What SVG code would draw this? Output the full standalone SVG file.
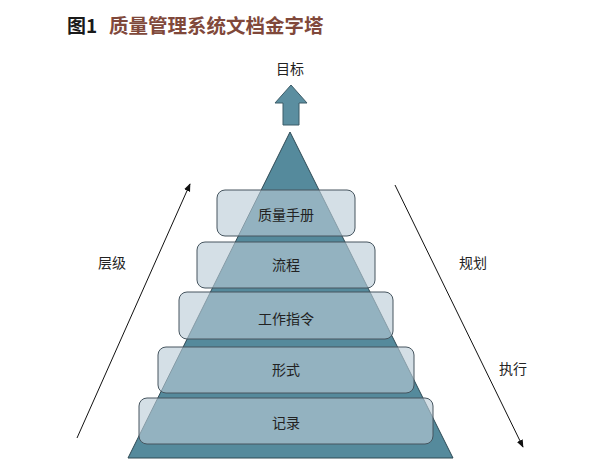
<svg xmlns="http://www.w3.org/2000/svg" width="616" height="465" viewBox="0 0 616 465">
<defs>
<style>
.t{font-family:"Noto Sans CJK SC","Noto Sans",sans-serif;font-size:14px;fill:#222;text-anchor:middle;dominant-baseline:central}
.box{fill:#b9ccd7;fill-opacity:0.62;stroke:#46555f;stroke-width:1}
.ln{stroke:#111;stroke-width:1;fill:none}
</style>
<marker id="ah" viewBox="0 0 10 10" refX="9" refY="5" markerWidth="8" markerHeight="8" orient="auto" markerUnits="userSpaceOnUse"><path d="M0,1 L10,5 L0,9 z" fill="#111"/></marker>
</defs>
<rect width="616" height="465" fill="#fff"/>
<g id="title">
<text x="67" y="33" style="font-family:'Noto Sans CJK SC',sans-serif;font-size:19px;font-weight:bold;fill:#1a1a1a">图1</text>
<text x="109" y="33" style="font-family:'Noto Sans CJK SC',sans-serif;font-size:19.5px;font-weight:bold;fill:#80483a">质量管理系统文档金字塔</text>
</g>
<g id="goal">
<text class="t" x="290" y="68">目标</text>
<path d="M283,125 L283,103 L275,103 L291,85 L307,103 L299,103 L299,125 Z" fill="#5b8ea0" stroke="#3d5c68" stroke-width="1"/>
</g>
<g id="pyramid">
<path d="M290,132 L128,458 L453,458 Z" fill="#558a9c" stroke="#2f4a55" stroke-width="1"/>
</g>
<g id="n1"><rect class="box" x="217" y="190" width="138" height="46" rx="8"/><text class="t" x="286" y="214">质量手册</text></g>
<g id="n2"><rect class="box" x="197" y="242" width="178" height="46" rx="8"/><text class="t" x="286" y="264">流程</text></g>
<g id="n3"><rect class="box" x="179" y="292" width="214" height="47" rx="8"/><text class="t" x="286" y="318">工作指令</text></g>
<g id="n4"><rect class="box" x="158" y="347" width="256" height="46" rx="8"/><text class="t" x="286" y="369">形式</text></g>
<g id="n5"><rect class="box" x="139" y="398" width="294" height="46" rx="8"/><text class="t" x="286" y="422">记录</text></g>
<g id="connectors">
<line class="ln" x1="77" y1="438" x2="190" y2="184" marker-end="url(#ah)"/>
<line class="ln" x1="395" y1="185" x2="523" y2="447" marker-end="url(#ah)"/>
</g>
<g id="labels">
<text class="t" x="112" y="262">层级</text>
<text class="t" x="473" y="262">规划</text>
<text class="t" x="513" y="368">执行</text>
</g>
</svg>
